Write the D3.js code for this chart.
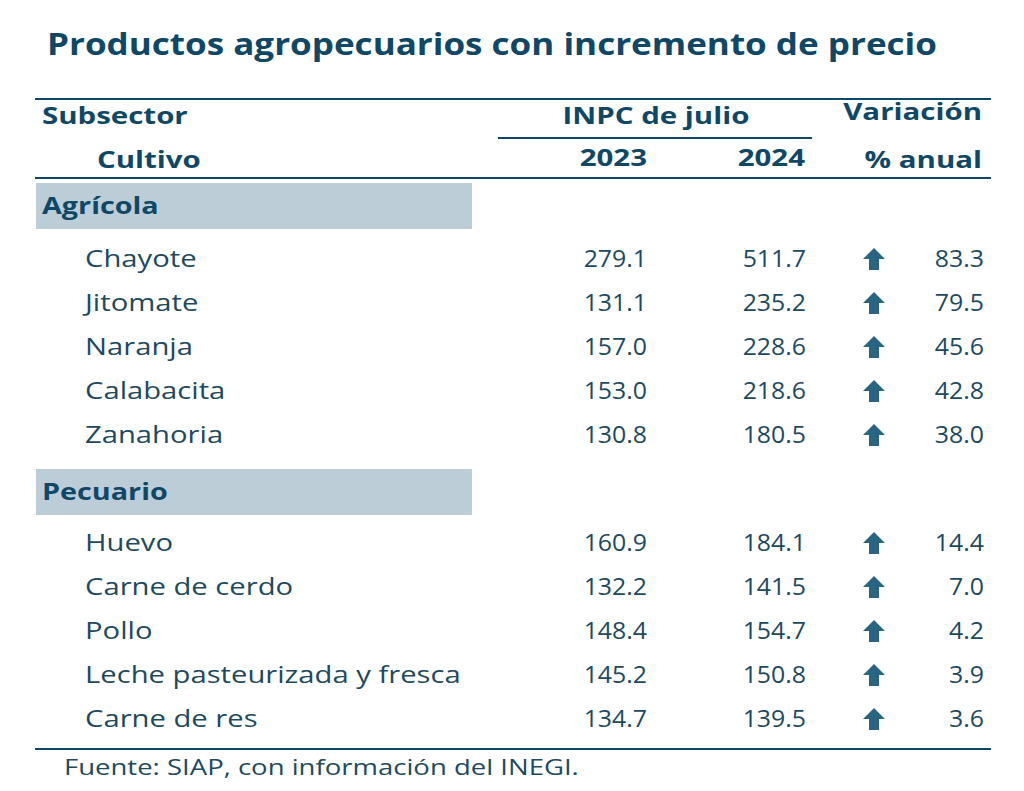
<!DOCTYPE html>
<html><head><meta charset="utf-8">
<script src="https://cdn.jsdelivr.net/npm/d3@7"></script>
<style>body{margin:0;background:#fff}svg{display:block}</style>
</head><body>
<script>
const title = "Productos agropecuarios con incremento de precio";
const groups = ["Agrícola", "Pecuario"];
const agricola = ["Chayote", "Jitomate", "Naranja", "Calabacita", "Zanahoria"];
const pecuario = ["Huevo", "Carne de cerdo", "Pollo", "Leche pasteurizada y fresca", "Carne de res"];
const inpc2023 = [279.1, 131.1, 157.0, 153.0, 130.8, 160.9, 132.2, 148.4, 145.2, 134.7];
const inpc2024 = [511.7, 235.2, 228.6, 218.6, 180.5, 184.1, 141.5, 154.7, 150.8, 139.5];
const variacion = [83.3, 79.5, 45.6, 42.8, 38.0, 14.4, 7.0, 4.2, 3.9, 3.6];
const source = "Fuente: SIAP, con información del INEGI.";

const W = 1024, H = 791;
const dark = "#0f4866", body = "#1d4a60", band = "#bccdd7", arrowC = "#2a6483";
const FF = "'Open Sans', 'Noto Sans', sans-serif";

const svg = d3.select("body").append("svg").attr("width", W).attr("height", H);

function stretch(sel, k) {
  sel.each(function () {
    const w = this.getComputedTextLength();
    d3.select(this).attr("textLength", w * k).attr("lengthAdjust", "spacingAndGlyphs");
  });
  return sel;
}

svg.append("text").attr("x", 47).attr("y", 55).attr("fill", dark)
  .attr("font-family", FF).attr("font-weight", 700).attr("font-size", 31)
  .attr("textLength", 890).attr("lengthAdjust", "spacingAndGlyphs").text(title);

// rules
const rule = (x1, x2, y, w) => svg.append("line").attr("x1", x1).attr("x2", x2).attr("y1", y).attr("y2", y)
  .attr("stroke", dark).attr("stroke-width", w);
rule(35, 991, 99, 2);
rule(498, 812, 138, 2);
rule(35, 991, 178, 2);
rule(35, 991, 749, 2);

const hdr = (t, x, y, anchor) => svg.append("text").attr("x", x).attr("y", y).attr("text-anchor", anchor)
    .attr("fill", dark).attr("font-family", FF).attr("font-weight", 700).attr("font-size", 23)
    .text(t).call(stretch, 1.28);
hdr("Subsector", 42, 124, "start");
hdr("INPC de julio", 656, 124, "middle");
hdr("Variación", 982, 120, "end");
hdr("Cultivo", 97, 168, "start");
hdr("2023", 647, 166, "end");
hdr("2024", 805, 166, "end");
hdr("% anual", 982, 168, "end");

// x positions via ordinal scale of columns
const cols = ["name", "y2023", "y2024", "arrow", "var"];
const xCol = d3.scaleOrdinal().domain(cols).range([85, 647, 806, 874, 984]);

// row layout
const rowsY = d3.scaleLinear().domain([0, 4]).range([259, 435]);
const rowsY2 = d3.scaleLinear().domain([5, 9]).range([543, 719]);
const yRow = i => i < 5 ? rowsY(i) : rowsY2(i);
const groupY = d3.scaleOrdinal().domain(groups).range([183, 469]);

groups.forEach(g => {
  const y0 = groupY(g);
  svg.append("rect").attr("x", 36).attr("y", y0).attr("width", 436).attr("height", 46).attr("fill", band);
  svg.append("text").attr("x", 42).attr("y", y0 + 23).attr("dy", "0.35em")
    .attr("fill", dark).attr("font-family", FF).attr("font-weight", 700).attr("font-size", 23)
    .text(g).call(stretch, 1.25);
});

const names = agricola.concat(pecuario);
const rows = names.map((n, i) => ({ n, a: inpc2023[i], b: inpc2024[i], v: variacion[i], i }));
const f = d3.format(".1f");

const g = svg.selectAll("g.row").data(rows).join("g").attr("class", "row")
  .attr("transform", d => `translate(0,${yRow(d.i)})`);
const txt = (sel) => sel.attr("fill", body).attr("font-family", FF).attr("font-size", 23).attr("dy", "0.35em");
g.append("text").attr("x", xCol("name")).call(txt).text(d => d.n).call(stretch, 1.27);
g.append("text").attr("x", xCol("y2023")).attr("text-anchor", "end").call(txt).text(d => f(d.a)).call(stretch, 1.08);
g.append("text").attr("x", xCol("y2024")).attr("text-anchor", "end").call(txt).text(d => f(d.b)).call(stretch, 1.08);
g.append("text").attr("x", xCol("var")).attr("text-anchor", "end").call(txt).text(d => f(d.v)).call(stretch, 1.08);
// arrow
g.append("path").attr("fill", arrowC)
  .attr("transform", `translate(${xCol("arrow")},0)`)
  .attr("d", "M0,-11 L11,0 L5,0 L5,11 L-5,11 L-5,0 L-11,0 Z");

svg.append("text").attr("x", 64).attr("y", 775).attr("fill", body)
  .attr("font-family", FF).attr("font-size", 22).text(source).call(stretch, 1.25);
</script>
</body></html>
